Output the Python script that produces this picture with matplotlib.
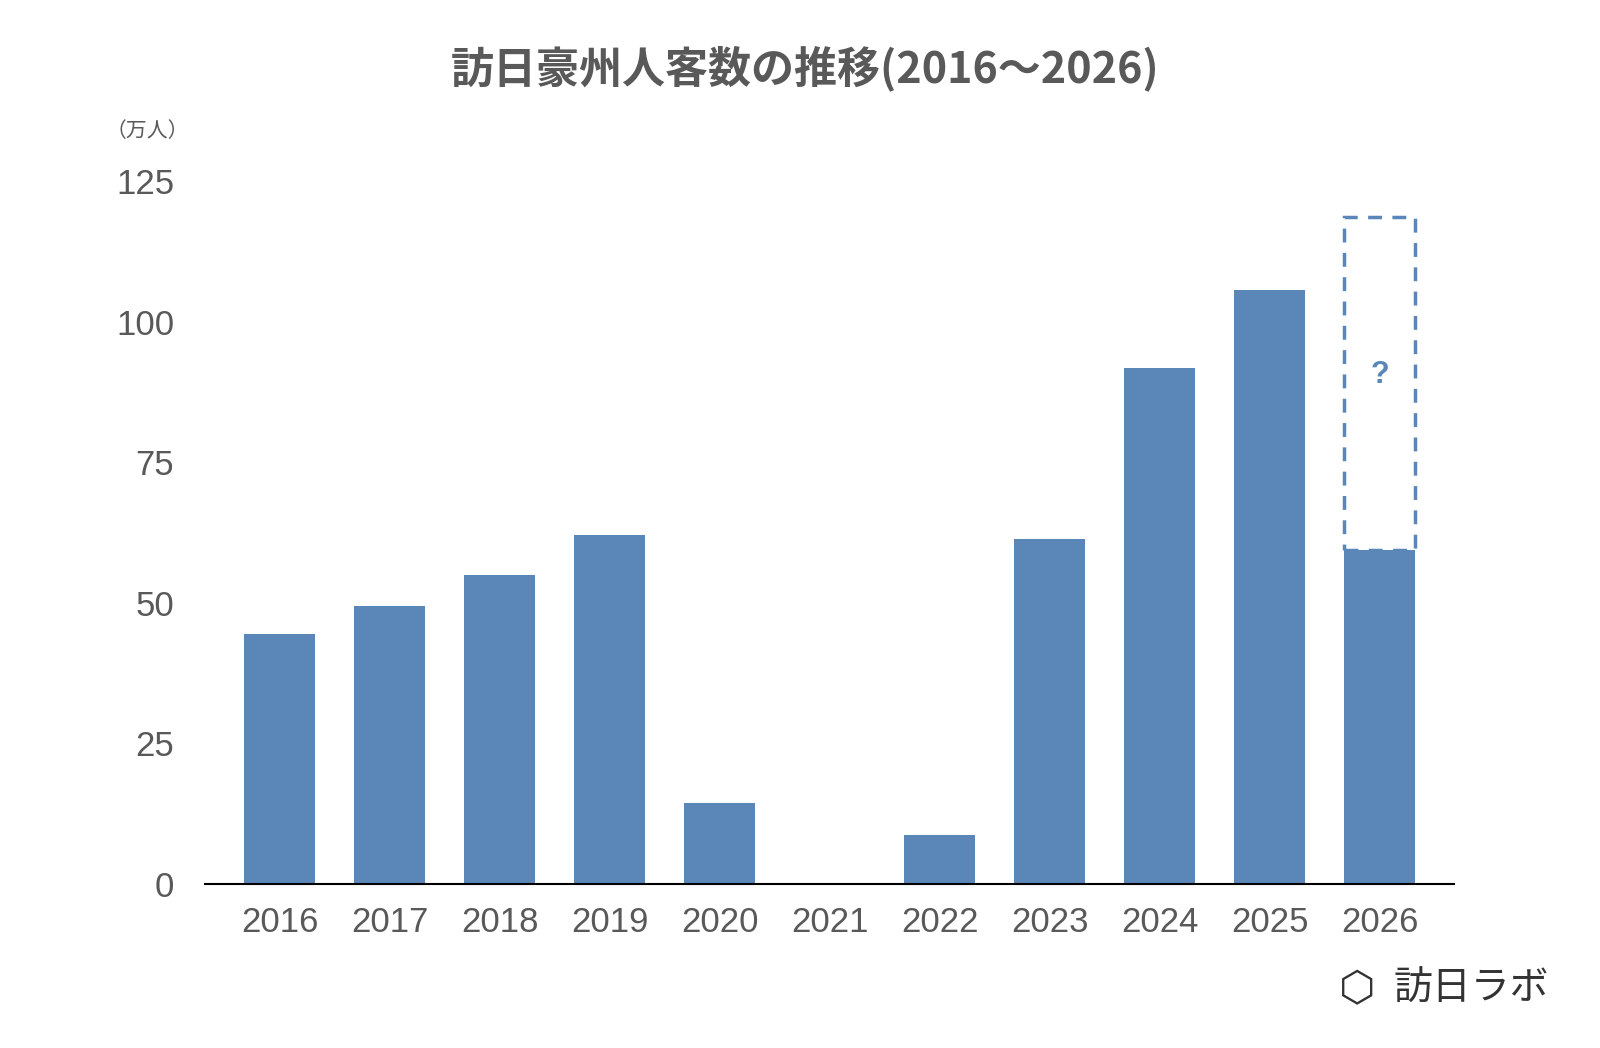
import matplotlib
matplotlib.use("Agg")
import matplotlib.pyplot as plt
from matplotlib.patches import Rectangle

plt.rcParams['font.family'] = ['Noto Sans CJK JP', 'DejaVu Sans']

# ------------------------------------------------------
# Données (万人)
# ------------------------------------------------------
years = ["2016", "2017", "2018", "2019", "2020", "2021",
         "2022", "2023", "2024", "2025", "2026"]
visitors = [44.5, 49.4, 54.9, 62.1, 14.4, 0.2, 8.7, 61.3, 91.7, 105.6, 59.4]
forecast_top = 118.6   # 2026 見込み（破線）

bar_color = "#5B87B8"
grey = "#595959"

fig = plt.figure(figsize=(16, 10.48), dpi=100)
ax = fig.add_axes([0.128, 0.1565, 0.781, 0.6705])

x = list(range(len(years)))
ax.bar(x, visitors, width=0.64, color=bar_color)

# 2026 :破線の枠
last = len(years) - 1
ax.add_patch(Rectangle((last - 0.32, visitors[-1]), 0.64,
                       forecast_top - visitors[-1], fill=False,
                       edgecolor=bar_color, linestyle=(0, (4, 3)), linewidth=2.5))
ax.text(last, (visitors[-1] + forecast_top) / 2 + 1.5, "?", color=bar_color,
        fontsize=22, fontweight="bold", ha="center", va="center",
        family=['Liberation Sans'])

ax.set_xlim(-0.68, 10.68)
ax.set_ylim(0, 125)
ax.set_yticks([0, 25, 50, 75, 100, 125])
ax.set_xticks(x)
ax.set_xticklabels(years)
ax.tick_params(axis="both", length=0, labelsize=25, labelcolor=grey)
ax.tick_params(axis="x", pad=16)
ax.tick_params(axis="y", pad=22)
for lbl in ax.get_xticklabels() + ax.get_yticklabels():
    lbl.set_family(['Liberation Sans'])
for s in ["top", "right", "left"]:
    ax.spines[s].set_visible(False)
ax.spines["bottom"].set_color("black")
ax.spines["bottom"].set_linewidth(1.5)

fig.text(0.503, 0.935, "訪日豪州人客数の推移(2016～2026)", ha="center", va="center",
         fontsize=31, color=grey, fontweight="bold")
fig.text(0.066, 0.875, "（万人）", ha="left", va="center", fontsize=15, color=grey)
fig.text(0.968, 0.056, "訪日ラボ", ha="right", va="center", fontsize=28, color="#333333")
fig.text(0.848, 0.056, "⬡", ha="center", va="center", fontsize=30, color="#333333",
         family=['DejaVu Sans'])

fig.savefig("out.png", dpi=100, facecolor="white")
